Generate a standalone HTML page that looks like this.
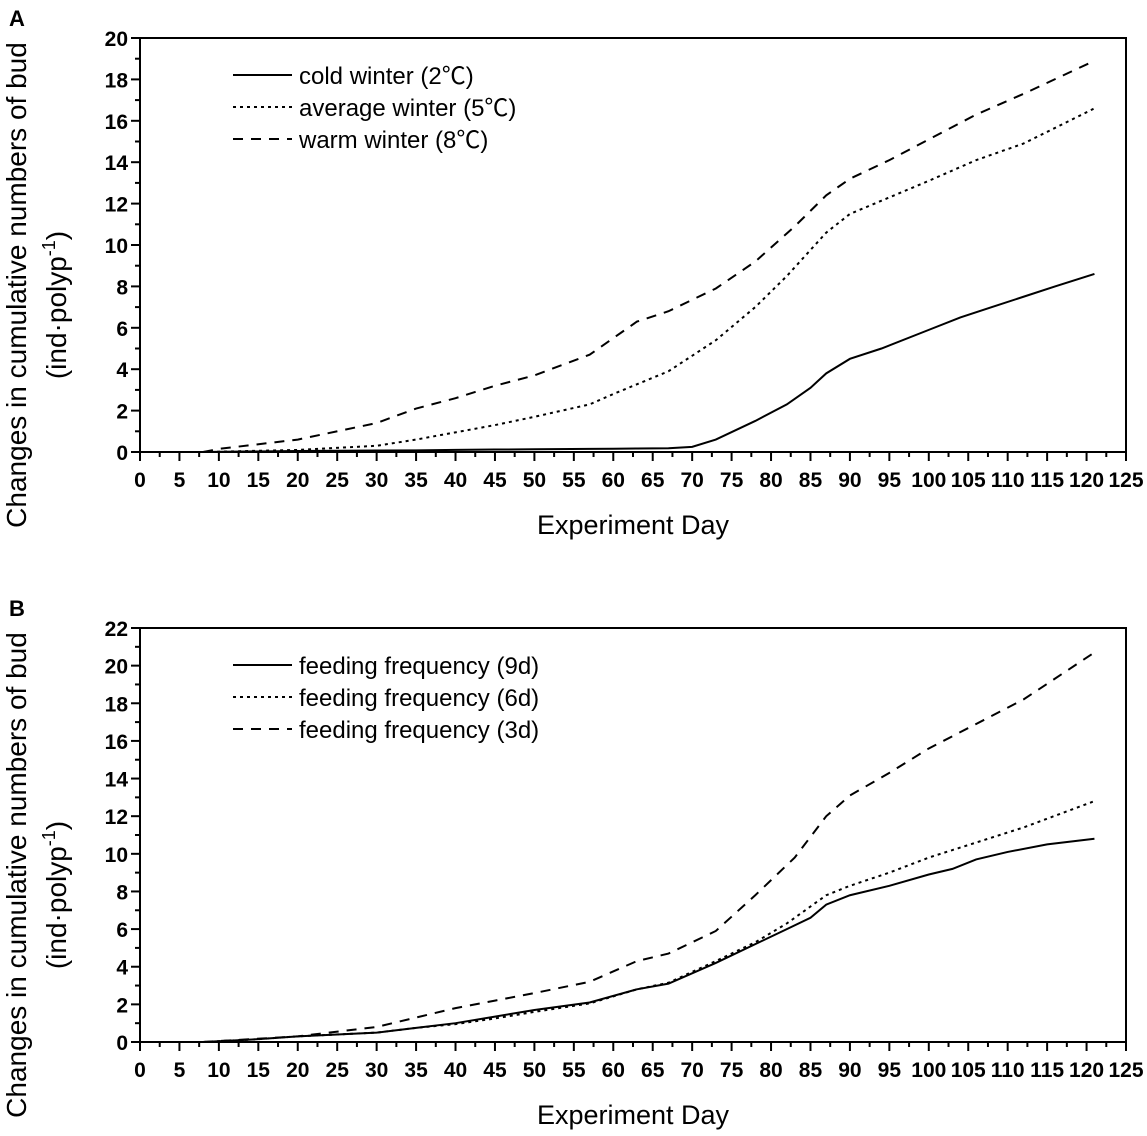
<!DOCTYPE html>
<html><head><meta charset="utf-8"><style>
body{margin:0;background:#fff}
svg text{font-family:"Liberation Sans","Noto Sans CJK SC",sans-serif}
</style></head><body>
<svg id="s" width="1147" height="1131" viewBox="0 0 1147 1131" xmlns="http://www.w3.org/2000/svg"></svg>
<script>
const xTicks=[0,5,10,15,20,25,30,35,40,45,50,55,60,65,70,75,80,85,90,95,100,105,110,115,120,125];
const aDays=[8,20,30,35,40,45,50,57,60,63,67,70,73,78,82,85,87,90,94,100,104,108,112,116,121];
const aCold=[0,0.05,0.07,0.08,0.1,0.12,0.13,0.15,0.16,0.17,0.18,0.25,0.6,1.5,2.3,3.1,3.8,4.5,5.0,5.9,6.5,7.0,7.5,8.0,8.6];
const aAvgDays=[8,20,30,35,40,45,50,57,60,67,73,78,82,87,90,95,100,106,112,121];
const aAvg=[0,0.1,0.3,0.6,0.95,1.3,1.7,2.3,2.8,3.9,5.4,7.0,8.5,10.6,11.5,12.3,13.1,14.1,14.9,16.6];
const aWarmDays=[8,10,20,30,35,40,45,50,57,63,67,73,78,83,87,90,95,100,106,112,121];
const aWarm=[0,0.15,0.6,1.4,2.1,2.6,3.2,3.7,4.7,6.3,6.8,7.9,9.2,10.9,12.4,13.2,14.1,15.1,16.3,17.3,18.9];
const b9Days=[8,15,20,30,35,40,45,50,57,63,67,73,78,82,85,87,90,95,100,103,106,110,115,121];
const b9=[0,0.15,0.3,0.5,0.75,1.0,1.35,1.7,2.1,2.8,3.1,4.2,5.2,6.0,6.6,7.3,7.8,8.3,8.9,9.2,9.7,10.1,10.5,10.8];
const b6Days=[8,15,20,30,35,40,45,50,57,63,67,73,78,82,87,90,95,100,106,112,121];
const b6=[0,0.15,0.3,0.5,0.75,0.95,1.25,1.6,2.05,2.8,3.15,4.3,5.3,6.3,7.8,8.3,9.0,9.8,10.6,11.4,12.8];
const b3Days=[8,20,30,35,40,45,50,57,63,67,73,78,83,87,90,95,100,106,112,121];
const b3=[0,0.3,0.8,1.3,1.8,2.2,2.6,3.2,4.3,4.7,5.9,7.8,9.8,12.0,13.1,14.3,15.6,16.9,18.2,20.7];
const yTicksA=[0,2,4,6,8,10,12,14,16,18,20];
const yTicksB=[0,2,4,6,8,10,12,14,16,18,20,22];
const legA=["cold winter (2℃)","average winter (5℃)","warm winter (8℃)"];
const legB=["feeding frequency (9d)","feeding frequency (6d)","feeding frequency (3d)"];
const S=document.getElementById('s');const NS="http://www.w3.org/2000/svg";
function mk(t,a,p){const e=document.createElementNS(NS,t);for(const k in a)e.setAttribute(k,a[k]);(p||S).appendChild(e);return e;}
const X0=140,X1=1126;const xs=d=>X0+d*(X1-X0)/125;
const dashes=["","3,4","10,8"];
function panel(top,bot,ymax,yT,series,leg,label,name){
  const g=mk('g',{});
  const ys=v=>bot-v*(bot-top)/ymax;
  mk('rect',{x:X0,y:top,width:X1-X0,height:bot-top,fill:'none',stroke:'#000','stroke-width':2},g);
  xTicks.forEach(t=>{mk('line',{x1:xs(t),x2:xs(t),y1:bot,y2:bot+9,stroke:'#000','stroke-width':2},g);
    if(t<125)mk('line',{x1:xs(t+2.5),x2:xs(t+2.5),y1:bot,y2:bot+5,stroke:'#000','stroke-width':2},g);
    const tx=mk('text',{x:xs(t),y:bot+35,'text-anchor':'middle','font-size':21,'font-weight':'bold'},g);tx.textContent=t;
    });
  yT.forEach((t,i)=>{mk('line',{x1:X0-9,x2:X0,y1:ys(t),y2:ys(t),stroke:'#000','stroke-width':2},g);
    if(i<yT.length-1)mk('line',{x1:X0-5,x2:X0,y1:ys(t+1),y2:ys(t+1),stroke:'#000','stroke-width':2},g);
    const tx=mk('text',{x:X0-12,y:ys(t)+8,'text-anchor':'end','font-size':21,'font-weight':'bold'},g);tx.textContent=t;
    });
  series.forEach((s,i)=>{const p=mk('polyline',{points:s[0].map((d,j)=>xs(d)+','+ys(s[1][j])).join(' '),fill:'none',stroke:'#000','stroke-width':2,'stroke-dasharray':dashes[i]},g);
    });
  leg.forEach((l,i)=>{const y=top+37+i*32;
    mk('line',{x1:233,x2:292,y1:y,y2:y,stroke:'#000','stroke-width':2,'stroke-dasharray':dashes[i]},g);
    const tx=mk('text',{x:299,y:y+9,'font-size':24},g);tx.textContent=l;
    });
  const xt=mk('text',{x:633,y:bot+82,'text-anchor':'middle','font-size':27},g);xt.textContent="Experiment Day";
  
  const cy=(top+bot)/2+40;
  const yt=mk('text',{transform:`translate(26,${cy}) rotate(-90)`,'text-anchor':'middle','font-size':28},g);yt.textContent="Changes in cumulative numbers of bud";
  
  const yt2=mk('text',{transform:`translate(66,${cy+20}) rotate(-90)`,'text-anchor':'middle','font-size':28},g);
  yt2.innerHTML='(ind·polyp<tspan font-size="18" dy="-11">-1</tspan><tspan dy="11">)</tspan>';
  
  const pl=mk('text',{x:9,y:top-12,'font-size':22,'font-weight':'bold'},g);pl.textContent=label;
  
}
panel(38,452,20,yTicksA,[[aDays,aCold],[aAvgDays,aAvg],[aWarmDays,aWarm]],legA,"A","panel-a");
panel(628,1042,22,yTicksB,[[b9Days,b9],[b6Days,b6],[b3Days,b3]],legB,"B","panel-b");
</script>
</body></html>
